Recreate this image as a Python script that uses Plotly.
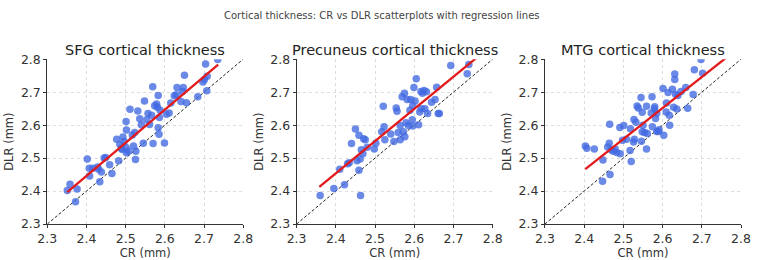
import plotly.graph_objects as go

# ---------------- data ----------------
panel_titles = ["SFG cortical thickness", "Precuneus cortical thickness", "MTG cortical thickness"]

sfg_cr = [2.351, 2.358, 2.376, 2.372, 2.402, 2.407, 2.408, 2.416, 2.428, 2.431, 2.438, 2.434, 2.445, 2.449,
          2.459, 2.465, 2.477, 2.482, 2.485, 2.489, 2.493, 2.496, 2.491, 2.501, 2.502, 2.501, 2.502, 2.507,
          2.511, 2.517, 2.520, 2.523, 2.526, 2.525, 2.531, 2.536, 2.540, 2.545, 2.548, 2.554, 2.557, 2.561,
          2.566, 2.569, 2.570, 2.574, 2.579, 2.583, 2.581, 2.583, 2.586, 2.588, 2.585, 2.599, 2.604, 2.611,
          2.615, 2.624, 2.631, 2.629, 2.641, 2.647, 2.650, 2.655, 2.684, 2.697, 2.701, 2.704, 2.707, 2.708,
          2.735, 2.645]
sfg_dlr = [2.402, 2.421, 2.406, 2.368, 2.497, 2.469, 2.446, 2.469, 2.473, 2.466, 2.458, 2.428, 2.500, 2.502,
           2.480, 2.453, 2.557, 2.492, 2.542, 2.530, 2.564, 2.550, 2.526, 2.611, 2.585, 2.532, 2.516, 2.521,
           2.648, 2.570, 2.537, 2.578, 2.521, 2.496, 2.643, 2.619, 2.601, 2.545, 2.673, 2.616, 2.635, 2.602,
           2.630, 2.716, 2.544, 2.659, 2.664, 2.690, 2.654, 2.592, 2.623, 2.645, 2.572, 2.546, 2.633, 2.637,
           2.667, 2.689, 2.714, 2.692, 2.672, 2.714, 2.751, 2.668, 2.686, 2.731, 2.738, 2.785, 2.704, 2.748,
           2.799, 2.702]

prec_cr = [2.360, 2.395, 2.422, 2.410, 2.430, 2.434, 2.440, 2.450, 2.459, 2.454, 2.459, 2.463, 2.462, 2.465,
           2.469, 2.471, 2.475, 2.480, 2.498, 2.502, 2.517, 2.521, 2.523, 2.525, 2.540, 2.548, 2.554, 2.556,
           2.559, 2.564, 2.564, 2.569, 2.575, 2.572, 2.576, 2.579, 2.582, 2.585, 2.589, 2.591, 2.595, 2.596,
           2.599, 2.602, 2.605, 2.611, 2.614, 2.617, 2.621, 2.625, 2.627, 2.631, 2.634, 2.644, 2.653, 2.657,
           2.661, 2.664, 2.693, 2.735, 2.739, 2.596, 2.618]
prec_dlr = [2.387, 2.408, 2.419, 2.466, 2.483, 2.486, 2.544, 2.588, 2.569, 2.492, 2.463, 2.387, 2.497, 2.525,
            2.513, 2.559, 2.556, 2.533, 2.528, 2.545, 2.580, 2.657, 2.595, 2.556, 2.573, 2.550, 2.652, 2.642,
            2.578, 2.556, 2.599, 2.686, 2.697, 2.580, 2.565, 2.607, 2.678, 2.599, 2.645, 2.678, 2.616, 2.659,
            2.714, 2.673, 2.741, 2.601, 2.640, 2.702, 2.697, 2.705, 2.650, 2.701, 2.635, 2.669, 2.678, 2.715,
            2.635, 2.635, 2.781, 2.756, 2.784, 2.597, 2.650]

mtg_cr = [2.403, 2.407, 2.426, 2.448, 2.447, 2.466, 2.465, 2.460, 2.464, 2.469, 2.474, 2.479, 2.483, 2.491,
          2.492, 2.501, 2.498, 2.508, 2.517, 2.520, 2.518, 2.527, 2.532, 2.528, 2.526, 2.535, 2.538, 2.545,
          2.548, 2.548, 2.550, 2.546, 2.554, 2.559, 2.559, 2.561, 2.571, 2.573, 2.574, 2.580, 2.579, 2.582,
          2.585, 2.589, 2.591, 2.603, 2.601, 2.610, 2.609, 2.614, 2.617, 2.618, 2.625, 2.628, 2.631, 2.631,
          2.633, 2.636, 2.639, 2.647, 2.659, 2.664, 2.678, 2.681, 2.702, 2.698, 2.585]
mtg_dlr = [2.537, 2.530, 2.528, 2.494, 2.430, 2.450, 2.603, 2.534, 2.545, 2.525, 2.521, 2.528, 2.517, 2.593,
           2.513, 2.599, 2.554, 2.557, 2.523, 2.490, 2.589, 2.617, 2.609, 2.557, 2.549, 2.658, 2.652, 2.684,
           2.639, 2.580, 2.600, 2.551, 2.578, 2.657, 2.528, 2.575, 2.637, 2.686, 2.595, 2.656, 2.650, 2.620,
           2.581, 2.581, 2.586, 2.569, 2.711, 2.667, 2.640, 2.699, 2.630, 2.600, 2.709, 2.654, 2.738, 2.755,
           2.694, 2.649, 2.690, 2.702, 2.714, 2.651, 2.693, 2.768, 2.757, 2.799, 2.636]

# regression lines: slope, intercept, CR span
fit_slope = [1.005, 0.977, 0.940]
fit_intercept = [0.034, 0.109, 0.208]
fit_span = [[2.351, 2.736], [2.358, 2.770], [2.403, 2.780]]

axis_range = [2.3, 2.8]
tick_vals = [2.3, 2.4, 2.5, 2.6, 2.7, 2.8]
tick_text = ["2.3", "2.4", "2.5", "2.6", "2.7", "2.8"]

main_title = "Cortical thickness: CR vs DLR scatterplots with regression lines"
x_title = "CR (mm)"
y_title = "DLR (mm)"

# ---------------- figure ----------------
W, H = 764, 260
FONT = "DejaVu Sans"
x_px = [(38.3, 239.5), (294.3, 495.7), (549.3, 750.7)]
y_px = (54.3, 229.3)

series = [(sfg_cr, sfg_dlr), (prec_cr, prec_dlr), (mtg_cr, mtg_dlr)]

fig = go.Figure()
layout = dict(
    width=W, height=H, margin=dict(l=0, r=0, t=0, b=0),
    paper_bgcolor="white", plot_bgcolor="white", showlegend=False,
    font=dict(family=FONT, color="#333333"),
)
annotations = []
for i, ((cr, dlr), (x0, x1)) in enumerate(zip(series, x_px)):
    n = "" if i == 0 else str(i + 1)
    xa, ya = "x" + n, "y" + n
    # identity line
    fig.add_trace(go.Scatter(x=axis_range, y=axis_range, mode="lines", xaxis=xa, yaxis=ya,
                             line=dict(color="#222222", width=1, dash="3px,2px"), hoverinfo="skip"))
    fig.add_trace(go.Scatter(x=cr, y=dlr, mode="markers", xaxis=xa, yaxis=ya,
                             marker=dict(size=7.5, color="rgba(65,105,225,0.78)", line=dict(width=0))))
    fx = fit_span[i]
    fy = [fit_slope[i] * v + fit_intercept[i] for v in fx]
    fig.add_trace(go.Scatter(x=fx, y=fy, mode="lines", xaxis=xa, yaxis=ya,
                             line=dict(color="#e31a1c", width=2.3)))
    common = dict(range=axis_range, tickvals=tick_vals, ticktext=tick_text,
                  showgrid=True, gridcolor="#dddddd", griddash="dot", gridwidth=1,
                  showline=True, linecolor="#333333", linewidth=1, mirror=False,
                  ticks="outside", ticklen=3, tickcolor="#333333", tickwidth=1,
                  tickfont=dict(family=FONT, size=12.5, color="#333333"), zeroline=False,
                  fixedrange=True)
    layout["xaxis" + n] = dict(common, domain=[x0 / W, x1 / W], anchor=ya,
                               title=dict(text=x_title, font=dict(family=FONT, size=11.5, color="#333333"), standoff=1))
    layout["yaxis" + n] = dict(common, domain=[(H - y_px[1]) / H, (H - y_px[0]) / H], anchor=xa,
                               title=dict(text=y_title, font=dict(family=FONT, size=11.5, color="#333333"), standoff=4))
    annotations.append(dict(text=panel_titles[i], x=(x0 + x1) / 2 / W, y=1 - 44.5 / H, xref="paper", yref="paper",
                            xanchor="center", yanchor="middle", showarrow=False,
                            font=dict(family=FONT, size=14.5, color="#222222")))

annotations.append(dict(text=main_title, x=0.5, y=1 - 8 / H, xref="paper", yref="paper",
                        xanchor="center", yanchor="middle", showarrow=False,
                        font=dict(family=FONT, size=10, color="#444444")))
layout["annotations"] = annotations
fig.update_layout(**layout)
fig.write_html("out.html")
